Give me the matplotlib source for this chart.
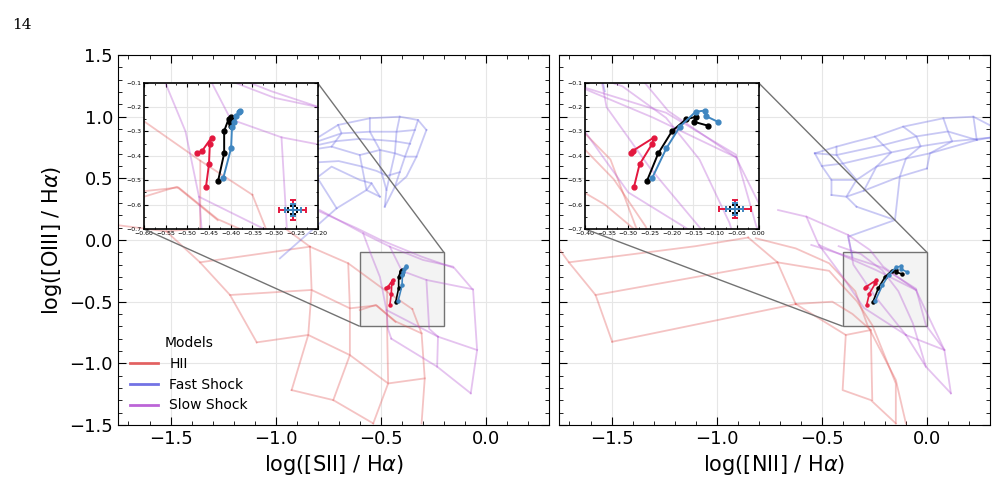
import matplotlib
matplotlib.use("Agg")
import matplotlib.pyplot as plt
from matplotlib.lines import Line2D
from matplotlib.ticker import MultipleLocator, AutoMinorLocator
from mpl_toolkits.axes_grid1.inset_locator import mark_inset

# model grids: (x list, y list) per polyline
HII_SII = [
    ([-1.52, -1.36, -1.217, -1.09], [0.07, -0.181, -0.446, -0.83]),
    ([-1.36, -0.837, -0.655, -0.47, -0.35], [-0.181, -0.054, -0.189, -0.42, -0.56]),
    ([-1.217, -0.829, -0.647, -0.52, -0.43, -0.306], [-0.446, -0.405, -0.554, -0.53, -0.66, -0.757]),
    ([-1.09, -0.845, -0.647, -0.465, -0.291], [-0.83, -0.77, -0.933, -1.163, -1.122]),
    ([-0.924, -0.726, -0.536], [-1.217, -1.298, -1.487]),
    ([-0.837, -0.829, -0.845, -0.924], [-0.054, -0.405, -0.77, -1.217]),
    ([-0.655, -0.647, -0.647, -0.726], [-0.189, -0.554, -0.933, -1.298]),
    ([-0.47, -0.47, -0.465, -0.536], [-0.42, -0.70, -1.163, -1.487]),
    ([-0.35, -0.306, -0.291, -0.306], [-0.56, -0.757, -1.122, -1.487]),
    ([-1.75, -1.52, -1.0, -0.837], [0.12, 0.07, 0.15, -0.054]),
    ([-0.6, -0.524, -0.43], [-0.568, -0.527, -0.664]),
]
HII_NII = [
    ([-1.75, -1.703, -1.576, -1.497], [-0.07, -0.181, -0.446, -0.825]),
    ([-1.703, -1.1, -0.85], [-0.181, -0.05, 0.02]),
    ([-1.576, -0.711], [-0.446, -0.181]),
    ([-1.497, -0.624], [-0.825, -0.519]),
    ([-0.85, -0.711, -0.624], [0.02, -0.181, -0.519]),
    ([-0.814, -0.624, -0.465, -0.341, -0.283, -0.148, -0.10], [0.014, -0.068, -0.189, -0.415, -0.69, -1.135, -1.487]),
    ([-0.711, -0.465, -0.40, -0.333, -0.26, -0.148, -0.148], [-0.181, -0.25, -0.374, -0.497, -0.69, -1.163, -1.487]),
    ([-0.624, -0.386, -0.401, -0.267, -0.148], [-0.519, -0.770, -1.217, -1.298, -1.487]),
    ([-0.386, -0.267, -0.26], [-0.77, -0.73, -1.298]),
    ([-0.624, -0.45, -0.354, -0.267], [-0.519, -0.50, -0.60, -0.73]),
]
FAST_SII = [
    ([-0.80, -0.703, -0.552, -0.41, -0.323, -0.283], [0.83, 0.933, 0.987, 1.0, 0.973, 0.892]),
    ([-0.80, -0.687, -0.552, -0.425, -0.338], [0.80, 0.865, 0.878, 0.878, 0.892]),
    ([-0.80, -0.72, -0.60, -0.50, -0.43, -0.36], [0.77, 0.80, 0.82, 0.81, 0.80, 0.78]),
    ([-0.80, -0.734, -0.6, -0.504, -0.433, -0.385, -0.33], [0.74, 0.757, 0.689, 0.73, 0.703, 0.676, 0.676]),
    ([-0.80, -0.70, -0.60, -0.52, -0.47, -0.41], [0.63, 0.64, 0.60, 0.56, 0.52, 0.55]),
    ([-0.80, -0.734, -0.6, -0.544, -0.504], [0.51, 0.595, 0.487, 0.46, 0.351]),
    ([-0.98, -0.71, -0.568, -0.544], [-0.149, 0.257, 0.405, 0.46]),
    ([-0.80, -0.71], [0.50, 0.257]),
    ([-0.552, -0.552, -0.504, -0.504, -0.473], [0.987, 0.878, 0.73, 0.595, 0.405]),
    ([-0.41, -0.425, -0.433, -0.473, -0.481], [1.0, 0.878, 0.703, 0.405, 0.27]),
    ([-0.323, -0.338, -0.385, -0.433, -0.481], [0.973, 0.892, 0.676, 0.432, 0.27]),
    ([-0.283, -0.33, -0.378, -0.433], [0.892, 0.676, 0.514, 0.432]),
    ([-0.703, -0.687, -0.734], [0.933, 0.865, 0.757]),
    ([-0.6, -0.568, -0.504], [0.689, 0.405, 0.351]),
]
FAST_NII = [
    ([-0.533, -0.43, -0.343, -0.248, -0.113, 0.078, 0.221, 0.30], [0.703, 0.757, 0.797, 0.838, 0.919, 0.987, 1.0, 0.93]),
    ([-0.533, -0.43, -0.319, -0.208, -0.05, 0.10, 0.237], [0.703, 0.689, 0.730, 0.770, 0.84, 0.88, 0.811]),
    ([-0.50, -0.40, -0.30, -0.17, -0.03, 0.12, 0.30], [0.60, 0.62, 0.66, 0.71, 0.76, 0.80, 0.83]),
    ([-0.454, -0.335, -0.24, -0.10, 0.014, 0.237], [0.487, 0.487, 0.595, 0.66, 0.703, 0.811]),
    ([-0.454, -0.383, -0.30, -0.129, 0.0], [0.365, 0.351, 0.40, 0.514, 0.58]),
    ([-0.533, -0.50, -0.454, -0.454], [0.703, 0.60, 0.487, 0.365]),
    ([-0.43, -0.43, -0.40, -0.335, -0.383, -0.335], [0.757, 0.689, 0.62, 0.487, 0.351, 0.27]),
    ([-0.248, -0.208, -0.17, -0.24, -0.30], [0.838, 0.770, 0.71, 0.595, 0.40]),
    ([-0.113, -0.05, -0.03, -0.10, -0.129, -0.152], [0.919, 0.84, 0.76, 0.66, 0.514, 0.162]),
    ([0.078, 0.10, 0.12, 0.014, 0.0], [0.987, 0.88, 0.80, 0.703, 0.58]),
    ([0.221, 0.237, 0.30], [1.0, 0.811, 0.83]),
    ([-0.335, -0.152, -0.375, -0.354], [0.27, 0.162, 0.027, -0.135]),
]
SLOW_SII = [
    ([-0.79, -0.584, -0.457, -0.299, -0.156, -0.061, -0.042, -0.072], [0.243, 0.054, -0.054, -0.162, -0.216, -0.405, -0.892, -1.243]),
    ([-0.79, -0.62, -0.50, -0.306, -0.156], [0.23, 0.10, 0.0, -0.135, -0.224]),
    ([-0.584, -0.547, -0.504, -0.473, -0.466, -0.45], [0.054, -0.115, -0.30, -0.568, -0.72, -0.80]),
    ([-0.457, -0.40, -0.283, -0.061], [-0.054, -0.25, -0.324, -0.40]),
    ([-0.473, -0.228, -0.042], [-0.568, -0.784, -0.892]),
    ([-0.45, -0.232, -0.072], [-0.80, -1.027, -1.243]),
    ([-0.228, -0.232], [-0.784, -1.027]),
    ([-0.283, -0.27, -0.228], [-0.324, -0.72, -0.784]),
]
SLOW_NII = [
    ([-0.708, -0.573, -0.375, -0.271, -0.208, -0.052, 0.083, 0.114], [0.243, 0.189, 0.041, -0.081, -0.216, -0.406, -0.892, -1.243]),
    ([-0.573, -0.518, -0.513, -0.243, -0.052], [0.189, -0.027, -0.041, -0.243, -0.406]),
    ([-0.375, -0.35, -0.25, -0.10, -0.005, 0.114], [0.041, -0.2, -0.45, -0.77, -1.027, -1.243]),
    ([-0.10, 0.083], [-0.77, -0.892]),
    ([-0.513, -0.40, -0.30, -0.10], [-0.041, -0.3, -0.55, -0.77]),
    ([-0.55, -0.40, -0.213, -0.052, -0.005, 0.083], [-0.04, -0.12, -0.223, -0.395, -0.69, -0.892]),
    ([-0.42, -0.314, -0.213, -0.136, -0.067, -0.005], [-0.05, -0.114, -0.244, -0.415, -0.675, -1.027]),
]

# observed tracks (shared [OIII]/Ha)
red_y = [-0.39, -0.38, -0.325, -0.351, -0.435, -0.529]
red_sii = [-0.477, -0.466, -0.444, -0.448, -0.450, -0.457]
red_nii = [-0.294, -0.290, -0.241, -0.245, -0.274, -0.287]
black_y = [-0.503, -0.39, -0.298, -0.25, -0.24, -0.26, -0.276]
black_sii = [-0.429, -0.415, -0.415, -0.405, -0.400, -0.402, -0.399]
black_nii = [-0.257, -0.231, -0.199, -0.167, -0.145, -0.149, -0.117]
blue_y = [-0.491, -0.368, -0.28, -0.219, -0.214, -0.237, -0.260]
blue_sii = [-0.417, -0.399, -0.397, -0.38, -0.378, -0.388, -0.392]
blue_nii = [-0.245, -0.212, -0.181, -0.145, -0.123, -0.121, -0.094]

# typical error bars (x, y, xerr, yerr) per colour
err_sii = {"red": (-0.257, -0.623, 0.031, 0.04), "black": (-0.257, -0.623, 0.010, 0.015), "blue": (-0.257, -0.623, 0.018, 0.026)}
err_nii = {"red": (-0.055, -0.618, 0.037, 0.038), "black": (-0.055, -0.618, 0.010, 0.015), "blue": (-0.055, -0.618, 0.020, 0.023)}

C_HII = "#e04a4a"
C_FAST = "#5a5ae0"
C_SLOW = "#b04ad0"
C_RED = "#e3173e"
C_BLUE = "#3f86c0"


def draw_content(ax, hii, fast, slow, tracks, ms, lw_track):
    for lines, col in ((hii, C_HII), (fast, C_FAST), (slow, C_SLOW)):
        for xs, ys in lines:
            ax.plot(xs, ys, color=col, alpha=0.33, lw=1.3)
    for xs, ys, col in tracks:
        ax.plot(xs, ys, "-o", color=col, ms=ms, lw=lw_track, zorder=5)


def style_ticks(ax, size, major_len, minor_len):
    ax.tick_params(which="both", direction="in", top=True, right=True, labelsize=size)
    ax.tick_params(which="major", length=major_len)
    ax.tick_params(which="minor", length=minor_len)
    ax.grid(True, color="#e6e6e6", lw=0.8)
    ax.set_axisbelow(True)


fig = plt.figure(figsize=(9.98, 5.01), dpi=100)
fig.text(0.012, 0.965, "14", family="DejaVu Serif", fontsize=11, va="top")

panels = [
    (0.1182, HII_SII, FAST_SII, SLOW_SII,
     [(red_sii, red_y, C_RED), (black_sii, black_y, "k"), (blue_sii, blue_y, C_BLUE)],
     err_sii, (-0.6, -0.2), r"log([SII] / H$\alpha$)"),
    (0.5601, HII_NII, FAST_NII, SLOW_NII,
     [(red_nii, red_y, C_RED), (black_nii, black_y, "k"), (blue_nii, blue_y, C_BLUE)],
     err_nii, (-0.4, 0.0), r"log([NII] / H$\alpha$)"),
]

for i, (left, hii, fast, slow, tracks, errs, zx, xlabel) in enumerate(panels):
    ax = fig.add_axes([left, 0.1517, 0.4319, 0.7385])
    draw_content(ax, hii, fast, slow, tracks, 2.2, 1.2)
    ax.set_xlim(-1.75, 0.3)
    ax.set_ylim(-1.5, 1.5)
    ax.xaxis.set_major_locator(MultipleLocator(0.5))
    ax.xaxis.set_minor_locator(MultipleLocator(0.1))
    ax.yaxis.set_major_locator(MultipleLocator(0.5))
    ax.yaxis.set_minor_locator(MultipleLocator(0.1))
    style_ticks(ax, 13, 6, 3)
    ax.set_xlabel(xlabel, fontsize=15)
    if i == 0:
        ax.set_ylabel(r"log([OIII] / H$\alpha$)", fontsize=15)
        handles = [Line2D([], [], color=c, lw=2, alpha=0.85) for c in (C_HII, C_FAST, C_SLOW)]
        ax.legend(handles, ["HII", "Fast Shock", "Slow Shock"], title="Models",
                  loc="lower left", frameon=False, fontsize=10, title_fontsize=10)
    else:
        ax.set_yticklabels([])

    axins = ax.inset_axes([0.06, 0.53, 0.403, 0.395])
    draw_content(axins, hii, fast, slow, tracks, 3.5, 1.4)
    for col, key in ((C_RED, "red"), ("k", "black"), (C_BLUE, "blue")):
        x0, y0, xe, ye = errs[key]
        axins.errorbar(x0, y0, xerr=xe, yerr=ye, color=col, capsize=2.5,
                       lw=1.4, capthick=1.4, zorder=6)
    axins.set_xlim(*zx)
    axins.set_ylim(-0.7, -0.1)
    axins.xaxis.set_major_locator(MultipleLocator(0.05))
    axins.yaxis.set_major_locator(MultipleLocator(0.1))
    axins.xaxis.set_minor_locator(AutoMinorLocator(2))
    axins.yaxis.set_minor_locator(AutoMinorLocator(2))
    axins.set_facecolor("white")
    style_ticks(axins, 4.5, 3, 1.5)
    axins.tick_params(pad=1.5)
    for s in axins.spines.values():
        s.set_linewidth(1.2)
    mark_inset(ax, axins, loc1=1, loc2=3, fc="#f3f3f3", ec="0.45", lw=1.0, zorder=0.6)

fig.savefig("out.png", dpi=100)
